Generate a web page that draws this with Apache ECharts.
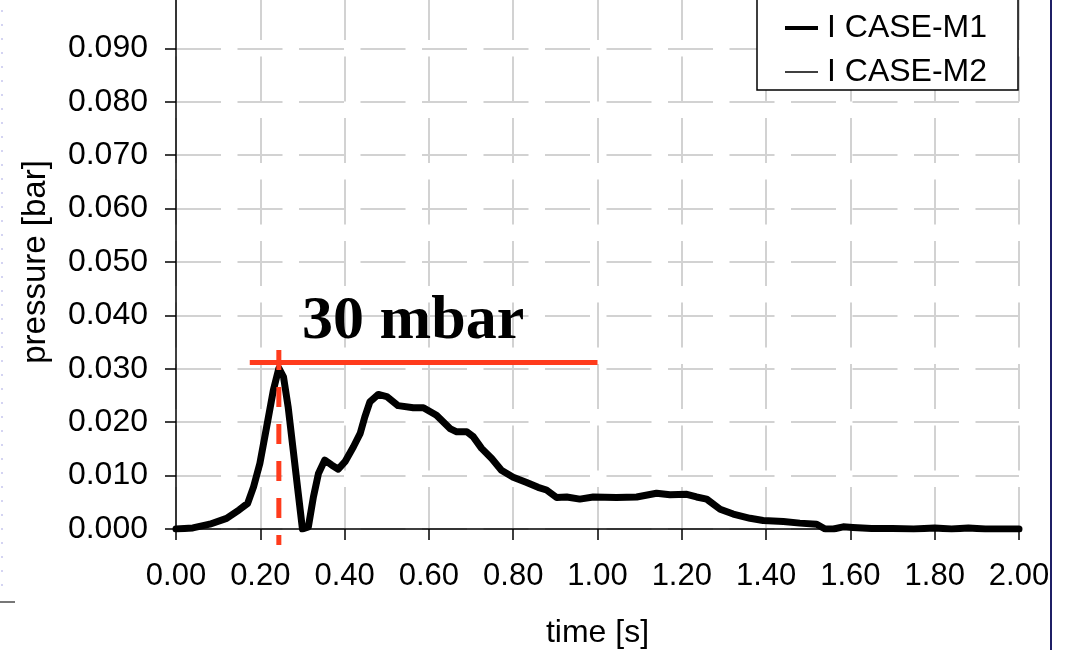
<!DOCTYPE html>
<html>
<head>
<meta charset="utf-8">
<script src="https://cdn.jsdelivr.net/npm/echarts@6/dist/echarts.min.js"></script>
<style>html,body{margin:0;padding:0;background:#fff;}#c{width:1072px;height:650px;}</style>
</head>
<body>
<div id="c"></div>
<script>
// time [s]
const time = [0, 0.04, 0.08, 0.12, 0.15, 0.17, 0.184, 0.199, 0.215, 0.231, 0.244, 0.255, 0.266, 0.278, 0.29, 0.3, 0.314, 0.326, 0.338, 0.353, 0.369, 0.385, 0.401, 0.421, 0.437, 0.448, 0.46, 0.48, 0.5, 0.527, 0.563, 0.587, 0.618, 0.65, 0.666, 0.69, 0.705, 0.725, 0.749, 0.772, 0.8, 0.832, 0.859, 0.879, 0.903, 0.927, 0.958, 0.99, 1.045, 1.093, 1.14, 1.172, 1.212, 1.235, 1.259, 1.291, 1.322, 1.362, 1.393, 1.441, 1.48, 1.52, 1.54, 1.56, 1.583, 1.606, 1.65, 1.7, 1.75, 1.8, 1.84, 1.88, 1.92, 1.96, 2.0];
// pressure [bar], I CASE-M1
const pressureM1 = [0, 0.0002, 0.0009, 0.002, 0.0036, 0.0048, 0.0079, 0.0123, 0.0191, 0.026, 0.0301, 0.0285, 0.0229, 0.0148, 0.0067, 0.0, 0.0004, 0.006, 0.0104, 0.0129, 0.012, 0.0112, 0.0126, 0.0154, 0.0179, 0.021, 0.0238, 0.0252, 0.0248, 0.0231, 0.0227, 0.0227, 0.0213, 0.0188, 0.0182, 0.0182, 0.0173, 0.0151, 0.0132, 0.011, 0.0097, 0.0087, 0.0078, 0.0073, 0.0059, 0.006, 0.0056, 0.006, 0.0059, 0.006, 0.0067, 0.0064, 0.0065, 0.006, 0.0056, 0.0037, 0.0028, 0.002, 0.0016, 0.0014, 0.0011, 0.0009, 0.0, 0.0, 0.0004, 0.0003, 0.0001, 0.0001, 0.0, 0.0002, 0.0, 0.0002, 0.0, 0.0, 0.0];
// I CASE-M2 (coincides with M1, hidden beneath it)
const pressureM2 = pressureM1.slice();
const seriesNames = ['I CASE-M1', 'I CASE-M2'];
// annotation: 30 mbar level line and peak marker
const levelLine = [[0.175, 0.0312], [1.0, 0.0312]];
const peakLine = [[0.244, 0.0335], [0.244, -0.003]];
const annotationText = '30 mbar';
const xTicks = {min: 0, max: 2, interval: 0.2};
const yTicks = {min: 0, max: 0.1, interval: 0.01};

const FONT = 'Liberation Sans, Arial, sans-serif';
const chart = echarts.init(document.getElementById('c'));
const zip = (xs, ys) => xs.map((x, i) => [x, ys[i]]);
const gridLine = {show: true, lineStyle: {color: '#d2d2d2', width: 2, type: [45, 16.5]}};

chart.setOption({
  animation: false,
  backgroundColor: '#fff',
  grid: {left: 176, right: 53, top: -5, bottom: 121, containLabel: false, outerBoundsMode: 'none'},
  xAxis: {
    type: 'value', min: xTicks.min, max: xTicks.max, interval: xTicks.interval,
    name: 'time [s]', nameLocation: 'middle', nameGap: 88,
    nameTextStyle: {color: '#000', fontFamily: FONT, fontSize: 32},
    axisLine: {show: true, onZero: false, lineStyle: {color: '#000', width: 1.5}},
    axisTick: {show: true, inside: false, length: 11, lineStyle: {color: '#000', width: 1.5}},
    axisLabel: {color: '#000', fontFamily: FONT, fontSize: 31, margin: 32, formatter: v => v.toFixed(2)},
    splitLine: gridLine
  },
  yAxis: {
    type: 'value', min: yTicks.min, max: yTicks.max, interval: yTicks.interval,
    name: 'pressure [bar]', nameLocation: 'middle', nameGap: 124, nameRotate: 90,
    nameTextStyle: {color: '#000', fontFamily: FONT, fontSize: 33},
    axisLine: {show: true, onZero: false, lineStyle: {color: '#000', width: 1.5}},
    axisTick: {show: true, inside: false, length: 11, lineStyle: {color: '#000', width: 1.5}},
    axisLabel: {color: '#000', fontFamily: FONT, fontSize: 32, margin: 28,
      formatter: v => v > 0.0951 ? '' : v.toFixed(3)},
    splitLine: gridLine
  },
  legend: [
    {data: [seriesNames[0]], left: 785, top: 10, padding: 0, itemWidth: 33, itemHeight: 4, icon: 'rect',
     textStyle: {color: '#000', fontFamily: FONT, fontSize: 32, lineHeight: 36, padding: [0, 0, 0, 4]}, z: 60, selectedMode: false},
    {data: [seriesNames[1]], left: 785, top: 54, padding: 0, itemWidth: 33, itemHeight: 1.5, icon: 'rect',
     textStyle: {color: '#000', fontFamily: FONT, fontSize: 32, lineHeight: 36, padding: [0, 0, 0, 4]}, z: 60, selectedMode: false}
  ],
  graphic: [
    {type: 'rect', z: 50, shape: {x: 757, y: -3, width: 261, height: 93}, style: {fill: '#fff', stroke: '#000', lineWidth: 1.5}},
    {type: 'text', z: 50, style: {x: 302, y: 322, text: annotationText, fill: '#000',
      font: 'bold 62px "Liberation Serif", "Times New Roman", serif', textAlign: 'left', textVerticalAlign: 'middle'}},
    {type: 'line', z: 50, shape: {x1: 1051, y1: 0, x2: 1051, y2: 650}, style: {stroke: '#1f1f66', lineWidth: 2}},
    {type: 'line', z: 50, shape: {x1: 2, y1: 10, x2: 2, y2: 590}, style: {stroke: '#d4d4f2', lineWidth: 2, lineDash: [2, 12]}},
    {type: 'line', z: 50, shape: {x1: 0, y1: 602, x2: 15, y2: 602}, style: {stroke: '#777', lineWidth: 2}}
  ],
  series: [
    {name: seriesNames[1], type: 'line', data: zip(time, pressureM2), showSymbol: false, symbol: 'none',
     lineStyle: {color: '#000', width: 1.5}, itemStyle: {color: '#000'}, z: 2},
    {name: seriesNames[0], type: 'line', data: zip(time, pressureM1), showSymbol: false, symbol: 'none',
     lineStyle: {color: '#000', width: 7, cap: 'round', join: 'round'}, itemStyle: {color: '#000'}, z: 3},
    {name: 'level', type: 'line', data: levelLine, showSymbol: false, symbol: 'none', clip: false,
     lineStyle: {color: '#ff3b1c', width: 5}, z: 5, silent: true},
    {name: 'peak', type: 'line', data: peakLine, showSymbol: false, symbol: 'none', clip: false,
     lineStyle: {color: '#ff3b1c', width: 5, type: [20, 17]}, z: 5, silent: true}
  ]
});
</script>
</body>
</html>
